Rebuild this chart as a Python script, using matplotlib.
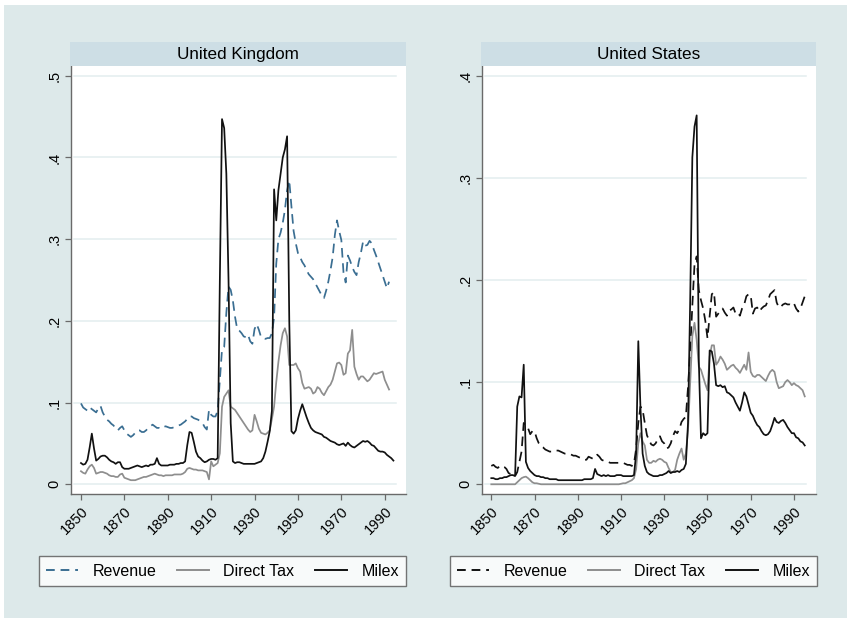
import numpy as np
import matplotlib
matplotlib.use('Agg')
import matplotlib.pyplot as plt
from matplotlib.patches import Rectangle
from matplotlib.lines import Line2D

plt.rcParams['font.family'] = ['Liberation Sans', 'DejaVu Sans']

# share of GDP, annual
uk_milex = [
    0.026, 0.024, 0.025, 0.030, 0.045, 0.062, 0.044, 0.029, 0.031, 0.034,
    0.035, 0.035, 0.033, 0.030, 0.028, 0.027, 0.025, 0.027, 0.027, 0.021,
    0.019, 0.019, 0.019, 0.020, 0.021, 0.022, 0.023, 0.022, 0.021, 0.022,
    0.023, 0.022, 0.024, 0.024, 0.025, 0.032, 0.025, 0.023, 0.023, 0.023,
    0.023, 0.024, 0.024, 0.024, 0.025, 0.025, 0.026, 0.026, 0.028, 0.048,
    0.064, 0.063, 0.052, 0.040, 0.034, 0.032, 0.029, 0.027, 0.028, 0.030,
    0.031, 0.031, 0.030, 0.032, 0.250, 0.447, 0.436, 0.380, 0.250, 0.075,
    0.028, 0.026, 0.027, 0.027, 0.026, 0.025, 0.025, 0.025, 0.025, 0.025,
    0.025, 0.026, 0.027, 0.028, 0.032, 0.040, 0.052, 0.065, 0.090, 0.361,
    0.323, 0.360, 0.380, 0.400, 0.410, 0.426, 0.200, 0.065, 0.062, 0.066,
    0.080, 0.090, 0.098, 0.090, 0.082, 0.075, 0.069, 0.066, 0.064, 0.063,
    0.062, 0.061, 0.058, 0.057, 0.055, 0.053, 0.052, 0.051, 0.049, 0.048,
    0.049, 0.050, 0.047, 0.051, 0.048, 0.046, 0.045, 0.047, 0.049, 0.051,
    0.053, 0.052, 0.053, 0.051, 0.048, 0.047, 0.044, 0.041, 0.040, 0.040,
    0.039, 0.036, 0.034, 0.032, 0.029]

uk_revenue = [
    0.099, 0.094, 0.092, 0.090, 0.094, 0.092, 0.090, 0.088, 0.093, 0.096,
    0.088, 0.083, 0.079, 0.077, 0.074, 0.072, 0.068, 0.066, 0.069, 0.071,
    0.066, 0.062, 0.060, 0.058, 0.060, 0.063, 0.066, 0.066, 0.064, 0.064,
    0.066, 0.069, 0.071, 0.073, 0.071, 0.069, 0.069, 0.068, 0.070, 0.071,
    0.070, 0.069, 0.069, 0.070, 0.071, 0.072, 0.073, 0.075, 0.077, 0.080,
    0.083, 0.083, 0.081, 0.080, 0.079, 0.077, 0.075, 0.070, 0.067, 0.091,
    0.085, 0.083, 0.083, 0.090, 0.128, 0.165, 0.168, 0.210, 0.242, 0.238,
    0.225, 0.205, 0.190, 0.188, 0.185, 0.181, 0.180, 0.183, 0.175, 0.172,
    0.190, 0.196, 0.189, 0.180, 0.179, 0.178, 0.179, 0.179, 0.185, 0.204,
    0.270, 0.300, 0.308, 0.320, 0.336, 0.360, 0.372, 0.340, 0.310, 0.295,
    0.283, 0.278, 0.272, 0.268, 0.262, 0.257, 0.254, 0.251, 0.246, 0.241,
    0.236, 0.231, 0.228, 0.237, 0.248, 0.262, 0.278, 0.305, 0.323, 0.310,
    0.299, 0.259, 0.247, 0.280, 0.274, 0.266, 0.260, 0.256, 0.272, 0.283,
    0.297, 0.292, 0.293, 0.298, 0.295, 0.287, 0.280, 0.272, 0.264, 0.256,
    0.248, 0.240, 0.248]

uk_direct = [
    0.016, 0.014, 0.013, 0.018, 0.022, 0.024, 0.020, 0.013, 0.014, 0.015,
    0.015, 0.014, 0.013, 0.011, 0.010, 0.010, 0.009, 0.009, 0.012, 0.013,
    0.008, 0.007, 0.006, 0.005, 0.005, 0.005, 0.006, 0.007, 0.008, 0.009,
    0.009, 0.010, 0.011, 0.012, 0.013, 0.012, 0.011, 0.011, 0.010, 0.011,
    0.011, 0.011, 0.011, 0.012, 0.012, 0.012, 0.012, 0.013, 0.015, 0.019,
    0.020, 0.019, 0.018, 0.018, 0.017, 0.017, 0.017, 0.016, 0.015, 0.006,
    0.028, 0.022, 0.024, 0.026, 0.038, 0.095, 0.107, 0.111, 0.115, 0.095,
    0.093, 0.091, 0.087, 0.083, 0.079, 0.075, 0.071, 0.067, 0.064, 0.066,
    0.085, 0.077, 0.068, 0.063, 0.062, 0.061, 0.063, 0.066, 0.080, 0.095,
    0.125, 0.150, 0.170, 0.185, 0.191, 0.181, 0.146, 0.146, 0.146, 0.148,
    0.142, 0.138, 0.124, 0.117, 0.118, 0.119, 0.117, 0.111, 0.113, 0.119,
    0.117, 0.112, 0.109, 0.114, 0.119, 0.122, 0.128, 0.138, 0.148, 0.149,
    0.146, 0.134, 0.136, 0.160, 0.164, 0.189, 0.144, 0.135, 0.128, 0.132,
    0.132, 0.129, 0.126, 0.128, 0.132, 0.136, 0.135, 0.136, 0.137, 0.138,
    0.128, 0.122, 0.116]

us_milex = [
    0.006, 0.006, 0.005, 0.005, 0.006, 0.006, 0.007, 0.007, 0.008, 0.009,
    0.009, 0.008, 0.076, 0.086, 0.085, 0.117, 0.022, 0.016, 0.013, 0.011,
    0.009, 0.008, 0.008, 0.007, 0.007, 0.006, 0.006, 0.005, 0.005, 0.005,
    0.005, 0.004, 0.004, 0.004, 0.004, 0.004, 0.004, 0.004, 0.004, 0.004,
    0.004, 0.004, 0.004, 0.005, 0.005, 0.005, 0.005, 0.006, 0.015, 0.010,
    0.009, 0.008, 0.009, 0.008, 0.009, 0.008, 0.008, 0.008, 0.009, 0.009,
    0.009, 0.008, 0.008, 0.008, 0.008, 0.008, 0.009, 0.030, 0.140, 0.075,
    0.030, 0.018, 0.012, 0.010, 0.009, 0.008, 0.008, 0.008, 0.009, 0.009,
    0.010, 0.011, 0.013, 0.011, 0.012, 0.012, 0.013, 0.012, 0.014, 0.015,
    0.020, 0.060, 0.180, 0.320, 0.350, 0.361, 0.120, 0.045, 0.050, 0.048,
    0.050, 0.131, 0.130, 0.118, 0.097, 0.096, 0.097, 0.095, 0.096, 0.090,
    0.089, 0.087, 0.085, 0.080, 0.076, 0.072, 0.080, 0.090, 0.086, 0.078,
    0.070, 0.067, 0.062, 0.058, 0.056, 0.052, 0.049, 0.048, 0.049, 0.052,
    0.058, 0.065, 0.061, 0.060, 0.062, 0.063, 0.060, 0.056, 0.053, 0.050,
    0.050, 0.046, 0.045, 0.042, 0.041, 0.038]

us_revenue = [
    0.018, 0.019, 0.017, 0.016, 0.018, 0.018, 0.017, 0.015, 0.011, 0.010,
    0.009, 0.008, 0.012, 0.022, 0.032, 0.060, 0.058, 0.055, 0.049, 0.052,
    0.052, 0.045, 0.040, 0.037, 0.036, 0.034, 0.033, 0.032, 0.032, 0.033,
    0.033, 0.033, 0.032, 0.031, 0.030, 0.030, 0.030, 0.029, 0.028, 0.028,
    0.027, 0.026, 0.025, 0.024, 0.024, 0.027, 0.026, 0.025, 0.026, 0.029,
    0.027, 0.024, 0.023, 0.022, 0.022, 0.021, 0.021, 0.021, 0.021, 0.021,
    0.021, 0.021, 0.020, 0.019, 0.019, 0.018, 0.020, 0.035, 0.060, 0.076,
    0.073, 0.060, 0.048, 0.043, 0.039, 0.038, 0.040, 0.044, 0.047, 0.042,
    0.040, 0.035, 0.036, 0.040, 0.047, 0.052, 0.050, 0.054, 0.061, 0.064,
    0.066, 0.095, 0.130, 0.175, 0.215, 0.223, 0.190, 0.180, 0.172, 0.160,
    0.143, 0.165, 0.186, 0.188, 0.164, 0.167, 0.170, 0.172, 0.168, 0.165,
    0.170, 0.171, 0.173, 0.167, 0.168, 0.165, 0.172, 0.176, 0.184, 0.186,
    0.185, 0.167, 0.172, 0.173, 0.169, 0.172, 0.174, 0.175, 0.180, 0.186,
    0.188, 0.190, 0.178, 0.173, 0.174, 0.176, 0.177, 0.176, 0.176, 0.175,
    0.177, 0.172, 0.169, 0.172, 0.178, 0.184]

us_direct = [
    0.000, 0.000, 0.000, 0.000, 0.000, 0.000, 0.000, 0.000, 0.000, 0.000,
    0.000, 0.000, 0.002, 0.004, 0.006, 0.007, 0.0075, 0.006, 0.004, 0.002,
    0.001, 0.001, 0.0005, 0.000, 0.000, 0.000, 0.000, 0.000, 0.000, 0.000,
    0.000, 0.000, 0.000, 0.000, 0.000, 0.000, 0.000, 0.000, 0.000, 0.000,
    0.000, 0.000, 0.000, 0.000, 0.000, 0.000, 0.000, 0.000, 0.000, 0.000,
    0.000, 0.000, 0.000, 0.000, 0.000, 0.000, 0.000, 0.000, 0.000, 0.000,
    0.0005, 0.001, 0.001, 0.002, 0.003, 0.004, 0.006, 0.015, 0.040, 0.050,
    0.042, 0.038, 0.024, 0.021, 0.021, 0.023, 0.022, 0.024, 0.025, 0.024,
    0.022, 0.021, 0.016, 0.012, 0.012, 0.014, 0.024, 0.030, 0.035, 0.024,
    0.030, 0.053, 0.100, 0.145, 0.158, 0.141, 0.115, 0.112, 0.105, 0.098,
    0.092, 0.125, 0.136, 0.136, 0.117, 0.120, 0.125, 0.122, 0.118, 0.112,
    0.114, 0.116, 0.117, 0.114, 0.112, 0.109, 0.113, 0.117, 0.112, 0.129,
    0.110, 0.106, 0.105, 0.107, 0.107, 0.105, 0.103, 0.101, 0.106, 0.110,
    0.112, 0.110, 0.100, 0.094, 0.095, 0.096, 0.100, 0.102, 0.100, 0.097,
    0.099, 0.097, 0.096, 0.094, 0.092, 0.086]

uk_years_milex = np.arange(1850, 1850 + len(uk_milex))
uk_years = np.arange(1850, 1850 + len(uk_revenue))
us_years = np.arange(1850, 1850 + len(us_milex))

xticks = [1850, 1870, 1890, 1910, 1930, 1950, 1970, 1990]
series_names = ['Revenue', 'Direct Tax', 'Milex']

W, H = 847, 618
BG = '#dde9ea'
STRIP = '#cddee5'
GRID = '#e3eeef'
AXIS = '#6a6a6a'
GRAY = '#8e8e8e'


def fx(px):
    return px / W


def fy(px):
    return 1 - px / H


def draw_panel(fig, left, right, title, lines, ylim, yticks, ylabels, xlim, legend_box):
    ax = fig.add_axes([fx(left), fy(494), fx(right - left), fy(66) - fy(494)])
    ax.set_facecolor('white')
    for x, y, color, dashed in lines:
        ln, = ax.plot(x, y, color=color, lw=1.25)
        if dashed:
            ln.set_dashes((5.5, 3.3))
    for t in yticks:
        ax.axhline(t, color=GRID, lw=1.1, xmin=0.01, xmax=0.97, zorder=0)
    ax.set_xlim(*xlim)
    ax.set_ylim(*ylim)
    ax.set_xticks(xticks)
    ax.set_xticklabels([str(v) for v in xticks], rotation=45, ha='right',
                       rotation_mode='anchor', fontsize=10.5)
    ax.set_yticks(yticks)
    ax.set_yticklabels(ylabels, rotation=90, va='center', fontsize=10.5)
    ax.tick_params(length=4, width=0.9, color=AXIS, pad=3)
    for s in ['top', 'right']:
        ax.spines[s].set_visible(False)
    for s in ['left', 'bottom']:
        ax.spines[s].set_color(AXIS)
        ax.spines[s].set_linewidth(1.0)

    # title strip
    sa = fig.add_axes([fx(left - 1), fy(66), fx(right - left + 1), fy(42) - fy(66)])
    sa.set_facecolor(STRIP)
    sa.set_xticks([])
    sa.set_yticks([])
    for s in sa.spines.values():
        s.set_visible(False)
    sa.text(0.5, 0.47, title, ha='center', va='center', fontsize=12.3, transform=sa.transAxes)

    handles = []
    for x, y, color, dashed in lines:
        h = Line2D([], [], color=color, lw=1.4)
        if dashed:
            h.set_dashes((4.5, 3.0))
        handles.append(h)
    x0, x1, y0, y1 = legend_box
    leg = ax.legend(handles, series_names, ncol=3, loc='center',
                    bbox_to_anchor=(fx(x0), fy(y1), fx(x1 - x0), fy(y0) - fy(y1)),
                    bbox_transform=fig.transFigure, mode='expand', fontsize=11.5,
                    frameon=True, fancybox=False, handlelength=2.0, handletextpad=0.9,
                    borderpad=0.45, borderaxespad=0, columnspacing=1.0)
    leg.get_frame().set_edgecolor('#555555')
    leg.get_frame().set_linewidth(1.0)
    return ax


fig = plt.figure(figsize=(W / 100, H / 100), dpi=100, facecolor='white')
fig.add_artist(Rectangle((fx(4), 0), 1, fy(5), transform=fig.transFigure,
                         facecolor=BG, edgecolor='none', zorder=-5))

uk_lines = [
    (uk_years, uk_revenue, '#3a6e92', True),
    (uk_years, uk_direct, GRAY, False),
    (uk_years_milex, uk_milex, '#111111', False),
]
draw_panel(fig, 71, 406, 'United Kingdom', uk_lines,
           (-0.0119, 0.512), [0, 0.1, 0.2, 0.3, 0.4, 0.5],
           ['0', '.1', '.2', '.3', '.4', '.5'], (1845.4, 1999.8),
           (39, 406, 556, 586))

us_lines = [
    (us_years, us_revenue, '#111111', True),
    (us_years, us_direct, GRAY, False),
    (us_years, us_milex, '#111111', False),
]
draw_panel(fig, 482, 816, 'United States', us_lines,
           (-0.0095, 0.4093), [0, 0.1, 0.2, 0.3, 0.4],
           ['0', '.1', '.2', '.3', '.4'], (1845.7, 2000.2),
           (450, 817, 556, 586))

fig.savefig('out.png', dpi=100, facecolor=fig.get_facecolor())
